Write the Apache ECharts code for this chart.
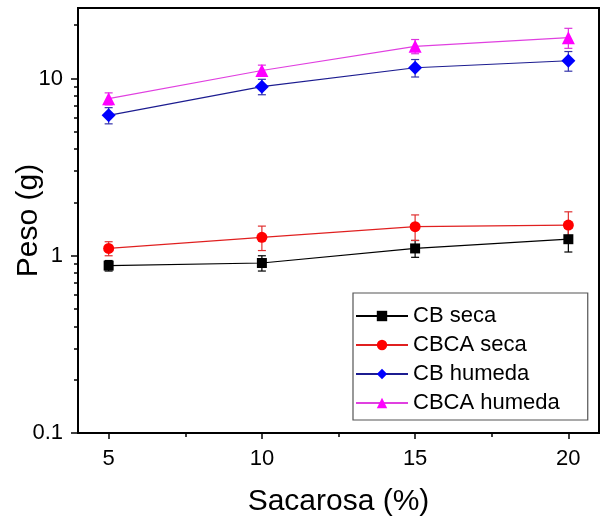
<!DOCTYPE html>
<html lang="es">
<head>
    <meta charset="UTF-8">
    <title>Peso vs Sacarosa</title>
    <script src="https://cdn.jsdelivr.net/npm/echarts@6/dist/echarts.min.js"></script>
    <style>
        *{
            margin: 0;
            padding: 0;
        }
        body{
            background-color: #fff;
            overflow: hidden;
        }
    </style>
</head>
<body>
<div id="main" style="width:605px;height:525px;"></div>

<script>
    // datos
    var sacarosa = [5, 10, 15, 20];
    var names = ['CB seca', 'CBCA seca', 'CB humeda', 'CBCA humeda'];

    var cbSeca = [0.88, 0.91, 1.10, 1.24];
    var cbSecaErr = [0.06, 0.09, 0.12, 0.19];
    var cbcaSeca = [1.10, 1.27, 1.46, 1.49];
    var cbcaSecaErr = [0.10, 0.20, 0.24, 0.28];
    var cbHumeda = [6.2, 9.0, 11.5, 12.6];
    var cbHumedaErr = [0.65, 0.9, 1.3, 1.6];
    var cbcaHumeda = [7.7, 11.1, 15.2, 17.0];
    var cbcaHumedaErr = [0.6, 0.8, 1.4, 2.2];

    var xMajor = [5, 10, 15, 20];
    var xMinor = [7.5, 12.5, 17.5];
    var yMajor = [0.1, 1, 10];
    var yMinor = [0.2, 0.3, 0.4, 0.5, 0.6, 0.7, 0.8, 0.9, 2, 3, 4, 5, 6, 7, 8, 9, 20];

    var font = 'Liberation Sans, Arial, sans-serif';

    function pairs(vals) {
        return vals.map(function (v, i) { return [sacarosa[i], v]; });
    }
    function bars(vals, errs) {
        return vals.map(function (v, i) { return [sacarosa[i], v - errs[i], v + errs[i]]; });
    }

    function lineSeries(name, vals, symbol, size, markColor, lineColor) {
        return {
            name: name,
            type: 'line',
            data: pairs(vals),
            symbol: symbol,
            symbolSize: size,
            z: 3,
            itemStyle: {color: markColor},
            lineStyle: {color: lineColor, width: 1.2}
        };
    }

    // barras de error (nombre distinto para que no salgan en la leyenda)
    function errSeries(name, vals, errs, color) {
        return {
            name: name + ' (error)',
            type: 'custom',
            data: bars(vals, errs),
            encode: {x: 0, y: [1, 2]},
            z: 2,
            silent: true,
            renderItem: function (params, api) {
                var lo = api.coord([api.value(0), api.value(1)]);
                var hi = api.coord([api.value(0), api.value(2)]);
                var w = 4;
                var st = {stroke: color, lineWidth: 1.2};
                return {
                    type: 'group',
                    children: [
                        {type: 'line', shape: {x1: lo[0], y1: lo[1], x2: hi[0], y2: hi[1]}, style: st},
                        {type: 'line', shape: {x1: lo[0] - w, y1: lo[1], x2: lo[0] + w, y2: lo[1]}, style: st},
                        {type: 'line', shape: {x1: hi[0] - w, y1: hi[1], x2: hi[0] + w, y2: hi[1]}, style: st}
                    ]
                };
            }
        };
    }

    var myChart = echarts.init(document.getElementById('main'));
    var option = {
        animation: false,
        grid: {
            left: 78, right: 6, top: 8, bottom: 92,
            outerBoundsMode: 'none',
            containLabel: false,
            show: true,
            borderColor: '#000',
            borderWidth: 2
        },
        legend: {
            orient: 'vertical',
            left: 353, top: 293,
            data: names,
            itemWidth: 52,
            itemHeight: 13,
            itemGap: 7,
            padding: [12, 28, 6, 2],
            borderColor: '#555',
            borderWidth: 1.2,
            backgroundColor: '#fff',
            textStyle: {fontFamily: font, fontSize: 22, color: '#000'}
        },
        xAxis: [
            {
                type: 'value', min: 4, max: 21,
                name: 'Sacarosa (%)', nameLocation: 'middle', nameGap: 54,
                nameMoveOverlap: false,
                nameTextStyle: {fontFamily: font, fontSize: 30, color: '#000'},
                axisLine: {onZero: false, lineStyle: {color: '#000', width: 2}},
                axisTick: {customValues: xMajor, length: 6, lineStyle: {color: '#000', width: 1.5}},
                axisLabel: {customValues: xMajor, fontFamily: font, fontSize: 22, color: '#000', margin: 15},
                splitLine: {show: false}
            },
            {
                type: 'value', min: 4, max: 21, position: 'bottom',
                axisLine: {show: false},
                axisTick: {customValues: xMinor, length: 4, lineStyle: {color: '#000', width: 1.5}},
                axisLabel: {show: false},
                splitLine: {show: false}
            }
        ],
        yAxis: [
            {
                type: 'log', logBase: 10, min: 0.1, max: 25,
                name: 'Peso (g)', nameLocation: 'middle', nameGap: 34,
                nameMoveOverlap: false,
                nameTextStyle: {fontFamily: font, fontSize: 30, color: '#000'},
                axisLine: {show: true, lineStyle: {color: '#000', width: 2}},
                axisTick: {customValues: yMajor, length: 7, lineStyle: {color: '#000', width: 1.5}},
                axisLabel: {customValues: yMajor, fontFamily: font, fontSize: 22, color: '#000', margin: 15,
                    formatter: function (v) { return String(v); }},
                splitLine: {show: false}
            },
            {
                type: 'log', logBase: 10, min: 0.1, max: 25, position: 'left',
                axisLine: {show: false},
                axisTick: {customValues: yMinor, length: 4, lineStyle: {color: '#000', width: 1.5}},
                axisLabel: {show: false},
                splitLine: {show: false}
            }
        ],
        series: [
            errSeries('CB seca', cbSeca, cbSecaErr, '#000'),
            errSeries('CBCA seca', cbcaSeca, cbcaSecaErr, '#e03030'),
            errSeries('CB humeda', cbHumeda, cbHumedaErr, '#3333aa'),
            errSeries('CBCA humeda', cbcaHumeda, cbcaHumedaErr, '#dd33dd'),
            lineSeries('CB seca', cbSeca, 'rect', 10, '#000', '#000'),
            lineSeries('CBCA seca', cbcaSeca, 'circle', 11, '#ff0000', '#e02020'),
            lineSeries('CB humeda', cbHumeda, 'diamond', 14, '#0000ff', '#1c1c90'),
            lineSeries('CBCA humeda', cbcaHumeda, 'triangle', 13, '#ff00ff', '#e040e0')
        ]
    };

    myChart.setOption(option);
</script>
</body>
</html>
